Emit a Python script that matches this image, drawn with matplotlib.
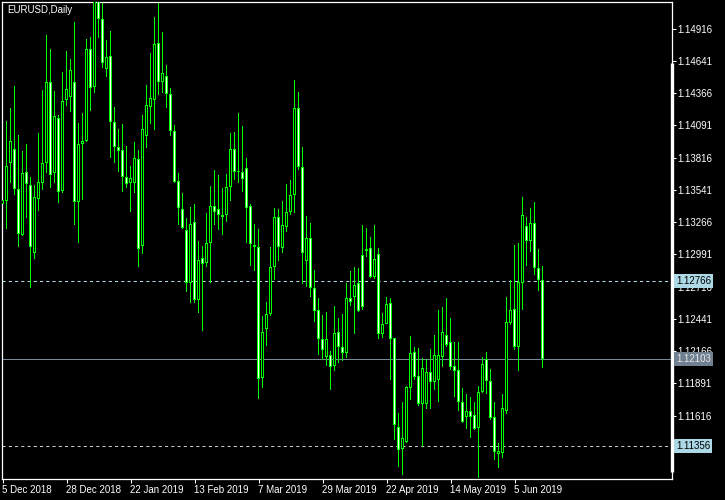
import numpy as np
import matplotlib.pyplot as plt
from matplotlib.patches import Rectangle
from matplotlib import transforms

plt.rcParams['font.family'] = ['Liberation Sans', 'DejaVu Sans']
plt.rcParams['font.size'] = 7

# EURUSD daily candles (oldest first)
opens = [1.13421, 1.13449, 1.13768, 1.13893, 1.13551, 1.13156, 1.13691, 1.13580, 1.13000, 1.13466,
         1.13603, 1.13768, 1.14459, 1.13683, 1.14154, 1.13534, 1.14308, 1.14336, 1.14459, 1.13441,
         1.13930, 1.13961, 1.14740, 1.14416, 1.15200, 1.14996, 1.14570, 1.14683, 1.14118, 1.13910,
         1.13879, 1.13654, 1.13597, 1.13597, 1.13802, 1.13065, 1.14003, 1.14251, 1.14308, 1.14792,
         1.14464, 1.14513, 1.14357, 1.14041, 1.13614, 1.13376, 1.13197, 1.12744, 1.13265, 1.12602,
         1.12958, 1.12920, 1.13091, 1.13401, 1.13378, 1.13327, 1.13327, 1.13568, 1.13888, 1.13702,
         1.13696, 1.13731, 1.13406, 1.13057, 1.13057, 1.11934, 1.12352, 1.12487, 1.12881, 1.13307,
         1.13043, 1.13227, 1.13350, 1.13495, 1.14237, 1.13734, 1.12937, 1.13128, 1.12702, 1.12517,
         1.12267, 1.12118, 1.12133, 1.12042, 1.12326, 1.12204, 1.12147, 1.12619, 1.12630, 1.12744,
         1.12986, 1.13040, 1.13043, 1.12801, 1.12992, 1.12309, 1.12397, 1.12574, 1.12275, 1.11521,
         1.11328, 1.11393, 1.11849, 1.12156, 1.11954, 1.11712, 1.11712, 1.11990, 1.11905, 1.11920,
         1.12118, 1.12304, 1.12246, 1.12039, 1.12005, 1.11729, 1.11607, 1.11655, 1.11621, 1.11508,
         1.11820, 1.12096, 1.11914, 1.11601, 1.11288, 1.11294, 1.11655, 1.12408, 1.12523, 1.12204,
         1.12744, 1.13233, 1.13108, 1.13256, 1.12872, 1.12773]
highs = [1.13472, 1.14129, 1.14242, 1.14427, 1.14009, 1.13873, 1.13933, 1.13649, 1.13583, 1.14024,
         1.14393, 1.14862, 1.14743, 1.14387, 1.14180, 1.14549, 1.14726, 1.14658, 1.14973, 1.14109,
         1.14200, 1.14828, 1.14845, 1.15290, 1.15260, 1.15170, 1.14820, 1.14897, 1.14246, 1.14061,
         1.14103, 1.13916, 1.13745, 1.13950, 1.13882, 1.14180, 1.14436, 1.14706, 1.15019, 1.15133,
         1.14891, 1.14607, 1.14408, 1.14095, 1.13688, 1.13512, 1.13299, 1.13393, 1.13421, 1.13105,
         1.13063, 1.13344, 1.13577, 1.13711, 1.13668, 1.13555, 1.13677, 1.14026, 1.14035, 1.14197,
         1.14086, 1.13813, 1.13418, 1.13248, 1.13208, 1.12466, 1.12582, 1.13054, 1.13384, 1.13378,
         1.13446, 1.13592, 1.13626, 1.14479, 1.14376, 1.13910, 1.13318, 1.13261, 1.12858, 1.12619,
         1.12474, 1.12497, 1.12170, 1.12551, 1.12448, 1.12483, 1.12750, 1.12849, 1.12886, 1.12872,
         1.13242, 1.13219, 1.13142, 1.13242, 1.13046, 1.12488, 1.12625, 1.12617, 1.12278, 1.11636,
         1.11734, 1.11868, 1.12295, 1.12204, 1.12190, 1.12105, 1.12099, 1.12181, 1.12304, 1.12517,
         1.12545, 1.12619, 1.12446, 1.12246, 1.12246, 1.11849, 1.11798, 1.11777, 1.11734, 1.11868,
         1.12118, 1.12161, 1.12011, 1.11734, 1.11380, 1.11798, 1.12625, 1.12773, 1.13071, 1.13091,
         1.13478, 1.13313, 1.13384, 1.13441, 1.13034, 1.12895]
lows = [1.13404, 1.13208, 1.13597, 1.13498, 1.13057, 1.13150, 1.13299, 1.12702, 1.12952, 1.13364,
        1.13540, 1.13685, 1.13560, 1.13597, 1.13427, 1.13512, 1.14257, 1.14208, 1.13242, 1.13091,
        1.13455, 1.13952, 1.14214, 1.14370, 1.14839, 1.14578, 1.14502, 1.13816, 1.13771, 1.13696,
        1.13526, 1.13560, 1.13355, 1.13512, 1.12886, 1.12994, 1.13901, 1.14103, 1.14052, 1.14351,
        1.14365, 1.14242, 1.14003, 1.13603, 1.13242, 1.13208, 1.12673, 1.12576, 1.12576, 1.12494,
        1.12340, 1.12886, 1.12750, 1.13242, 1.13199, 1.13156, 1.13270, 1.13449, 1.13622, 1.13597,
        1.13526, 1.13086, 1.12895, 1.12852, 1.11758, 1.11854, 1.12212, 1.12468, 1.12773, 1.12937,
        1.13000, 1.13185, 1.13327, 1.13347, 1.13711, 1.12736, 1.12715, 1.12630, 1.12417, 1.12133,
        1.12090, 1.12039, 1.11834, 1.11996, 1.12062, 1.12082, 1.12105, 1.12551, 1.12309, 1.12497,
        1.12517, 1.12971, 1.12792, 1.12779, 1.12267, 1.12275, 1.12397, 1.11920, 1.11408, 1.11180,
        1.11109, 1.11382, 1.11749, 1.11920, 1.11698, 1.11351, 1.11670, 1.11670, 1.11834, 1.11734,
        1.12033, 1.12204, 1.12005, 1.11777, 1.11658, 1.11553, 1.11499, 1.11422, 1.11493, 1.11081,
        1.11806, 1.11800, 1.11578, 1.11237, 1.11166, 1.11252, 1.11630, 1.12389, 1.12176, 1.11999,
        1.12517, 1.12895, 1.13014, 1.12815, 1.12681, 1.12025]
closes = [1.13455, 1.13748, 1.13961, 1.13551, 1.13168, 1.13683, 1.13589, 1.13057, 1.13478, 1.13606,
          1.13768, 1.14459, 1.13668, 1.14172, 1.13521, 1.14299, 1.14402, 1.14564, 1.13441, 1.13930,
          1.13956, 1.14740, 1.14408, 1.15200, 1.14996, 1.14626, 1.14677, 1.14123, 1.13910, 1.13876,
          1.13654, 1.13589, 1.13640, 1.13811, 1.13034, 1.14058, 1.14265, 1.14322, 1.14786, 1.14464,
          1.14536, 1.14357, 1.14046, 1.13611, 1.13389, 1.13219, 1.12750, 1.13248, 1.12602, 1.12943,
          1.12909, 1.13086, 1.13401, 1.13355, 1.13327, 1.13307, 1.13563, 1.13888, 1.13691, 1.13696,
          1.13632, 1.13389, 1.13077, 1.13069, 1.11926, 1.12326, 1.12487, 1.12881, 1.13307, 1.13052,
          1.13239, 1.13353, 1.13495, 1.14237, 1.13734, 1.13005, 1.13128, 1.12702, 1.12511, 1.12267,
          1.12176, 1.12267, 1.12033, 1.12320, 1.12199, 1.12152, 1.12619, 1.12588, 1.12730, 1.12511,
          1.12540, 1.13023, 1.12801, 1.12952, 1.12309, 1.12397, 1.12568, 1.12267, 1.11536, 1.11323,
          1.11422, 1.11857, 1.12147, 1.11943, 1.11712, 1.12025, 1.11985, 1.11905, 1.12133, 1.12133,
          1.12332, 1.12218, 1.12033, 1.11999, 1.11734, 1.11564, 1.11655, 1.11601, 1.11499, 1.11815,
          1.12056, 1.11914, 1.11593, 1.11308, 1.11314, 1.11678, 1.12412, 1.12517, 1.12204, 1.12758,
          1.13327, 1.13108, 1.13256, 1.12872, 1.12773, 1.12103]

date_pos = [0, 16, 32, 48, 64, 80, 96, 112, 128]
date_labels = ["5 Dec 2018", "28 Dec 2018", "22 Jan 2019", "13 Feb 2019", "7 Mar 2019",
               "29 Mar 2019", "22 Apr 2019", "14 May 2019", "5 Jun 2019"]
price_ticks = [1.14916, 1.14641, 1.14366, 1.14091, 1.13816, 1.13541, 1.13266, 1.12991,
               1.12716, 1.12441, 1.12166, 1.11891, 1.11616, 1.11341]

ask_level = 1.12766
bid_level = 1.12103
low_level = 1.11356

green = '#00ff00'

fig = plt.figure(figsize=(7.25, 5), dpi=100, facecolor='black')
ax = fig.add_axes([2 / 725, 21 / 500, 670 / 725, 477 / 500])
ax.set_facecolor('black')
ax.set_xlim(-0.125, 167.375)
ax.set_ylim(1.11076, 1.15144)

# one screen pixel in data units
px_x = 0.25
px_y = (1.15144 - 1.11076) / 477

for i in range(len(opens)):
    o, h, l, c = opens[i], highs[i], lows[i], closes[i]
    ax.add_patch(Rectangle((i - px_x / 2, l), px_x, h - l, facecolor=green,
                           edgecolor='none', antialiased=False, zorder=2))
    top, bot = max(o, c), min(o, c)
    if top - bot < px_y:
        top = bot + px_y
    ax.add_patch(Rectangle((i - 1.5 * px_x, bot), 3 * px_x, top - bot, facecolor=green,
                           edgecolor='none', antialiased=False, zorder=3))
    if top - bot > 2.5 * px_y:
        fill = 'white' if c < o else 'black'
        ax.add_patch(Rectangle((i - px_x / 2, bot + px_y), px_x, top - bot - 2 * px_y,
                               facecolor=fill, edgecolor='none', antialiased=False, zorder=4))

ax.axhline(ask_level, color='#add8e6', lw=0.75, ls=(0, (3, 3)), zorder=1)
ax.axhline(bid_level, color='#778899', lw=0.75, zorder=1)
ax.axhline(low_level, color='#c8c8c8', lw=0.75, ls=(0, (3, 3)), zorder=1)

for s in ax.spines.values():
    s.set_color('white')
    s.set_linewidth(0.9)

ax.yaxis.tick_right()
ax.set_yticks(price_ticks)
ax.set_yticklabels([f"{p:.5f}" for p in price_ticks])
ax.tick_params(axis='y', colors='white', length=3, width=0.75, pad=1, labelsize=7)
ax.set_xticks(date_pos)
ax.set_xticklabels(date_labels, ha='left')
ax.tick_params(axis='x', colors='white', length=3, width=0.75, pad=1.5, labelsize=7)
shift = transforms.ScaledTranslation(-1 / 100, 0, fig.dpi_scale_trans)
for lab in ax.get_xticklabels():
    lab.set_transform(lab.get_transform() + shift)

# price labels on the scale
trans = transforms.blended_transform_factory(ax.transAxes, ax.transData)
for lvl, bg, fg in [(ask_level, '#add8e6', 'black'), (bid_level, '#6f8090', '#e8e8e8'),
                    (low_level, '#add8e6', 'black')]:
    ax.text(1.0 + 4 / 670, lvl, f"{lvl:.5f}", transform=trans, ha='left', va='center',
            color=fg, fontsize=7, clip_on=False, zorder=10,
            bbox=dict(boxstyle='square,pad=0.2', fc=bg, ec='none'))

# scroll bar on the right edge
ax.plot([1.0, 1.0], [(479 - 472) / 477, (479 - 63) / 477], transform=ax.transAxes,
        color='white', lw=2.4, clip_on=False, solid_capstyle='butt', zorder=5)

fig.text(7 / 725, 1 - 10 / 500, "EURUSD,Daily", color='white', fontsize=7, va='center')

fig.savefig('out.png', dpi=100, facecolor='black')
